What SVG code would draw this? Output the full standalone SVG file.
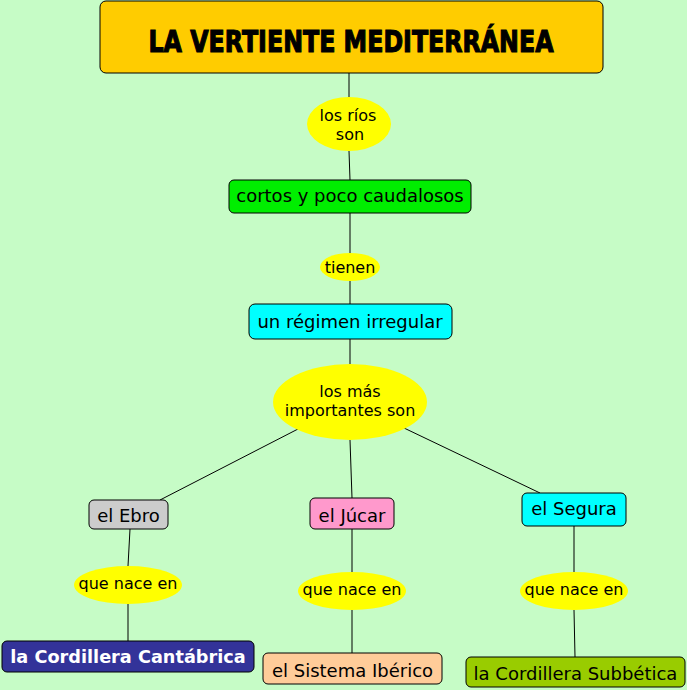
<svg xmlns="http://www.w3.org/2000/svg" width="687" height="690" viewBox="0 0 687 690">
<style>
.box{stroke:#000;stroke-width:1}
.ell{fill:#FFFF00;stroke:none}
.t{font-family:"DejaVu Sans","Liberation Sans",sans-serif;font-size:18px;fill:#000;text-anchor:middle}
.s{font-size:16px}
.title{font-family:"DejaVu Sans","Liberation Sans",sans-serif;font-weight:bold;font-size:30px;fill:#000;stroke:#000;stroke-width:1.2;text-anchor:middle}
.w{fill:#fff;font-weight:bold;font-size:17.7px}
#connectors line{stroke:#000;stroke-width:1}
</style>
<rect width="687" height="690" fill="#C6FCC6"/>
<g id="connectors">
<line x1="349" y1="73" x2="349" y2="97"/>
<line x1="349" y1="151" x2="350" y2="180"/>
<line x1="350" y1="213" x2="350" y2="253"/>
<line x1="350" y1="281" x2="350" y2="304"/>
<line x1="350" y1="339" x2="350" y2="364"/>
<line x1="298" y1="429" x2="160" y2="500"/>
<line x1="350" y1="440" x2="352" y2="498"/>
<line x1="404" y1="428" x2="540" y2="493"/>
<line x1="130" y1="529" x2="128" y2="566"/>
<line x1="128" y1="604" x2="128" y2="641"/>
<line x1="352" y1="529" x2="352" y2="572"/>
<line x1="352" y1="610" x2="352" y2="653"/>
<line x1="574" y1="526" x2="574" y2="572"/>
<line x1="574" y1="610" x2="575" y2="657"/>
</g>
<g id="title">
<rect class="box" x="100" y="1" width="503" height="72" rx="6" fill="#FFCC00"/>
<text class="title" x="351" y="52" textLength="405" lengthAdjust="spacingAndGlyphs">LA VERTIENTE MEDITERRÁNEA</text>
</g>
<g id="link-rios">
<ellipse class="ell" cx="349" cy="124" rx="42" ry="27"/>
<text class="t s" x="348" y="121">los ríos</text>
<text class="t s" x="350" y="140">son</text>
</g>
<g id="cortos">
<rect class="box" x="229" y="180" width="242" height="33" rx="5" fill="#00EE00"/>
<text class="t" x="350" y="202">cortos y poco caudalosos</text>
</g>
<g id="link-tienen">
<ellipse class="ell" cx="350" cy="267" rx="30" ry="14"/>
<text class="t s" x="350" y="273">tienen</text>
</g>
<g id="regimen">
<rect class="box" x="249" y="304" width="203" height="35" rx="6" fill="#00FFFF"/>
<text class="t" x="350" y="328">un régimen irregular</text>
</g>
<g id="link-importantes">
<ellipse class="ell" cx="350" cy="402" rx="77" ry="38"/>
<text class="t s" x="350" y="397">los más</text>
<text class="t s" x="350" y="416">importantes son</text>
</g>
<g id="ebro">
<rect class="box" x="89" y="500" width="79" height="29" rx="5" fill="#CCCCCC"/>
<text class="t" x="128.5" y="522">el Ebro</text>
</g>
<g id="jucar">
<rect class="box" x="310" y="498" width="84" height="31" rx="5" fill="#FF99CC"/>
<text class="t" x="352" y="522">el Júcar</text>
</g>
<g id="segura">
<rect class="box" x="522" y="493" width="104" height="33" rx="5" fill="#00FFFF"/>
<text class="t" x="574" y="515">el Segura</text>
</g>
<g id="link-ebro">
<ellipse class="ell" cx="128" cy="585" rx="54" ry="19"/>
<text class="t s" x="128" y="589">que nace en</text>
</g>
<g id="link-jucar">
<ellipse class="ell" cx="352" cy="591" rx="54" ry="19"/>
<text class="t s" x="352" y="595">que nace en</text>
</g>
<g id="link-segura">
<ellipse class="ell" cx="574" cy="591" rx="54" ry="19"/>
<text class="t s" x="574" y="595">que nace en</text>
</g>
<g id="cantabrica">
<rect class="box" x="2" y="641" width="252" height="31" rx="5" fill="#333399"/>
<text class="t w" x="128" y="663">la Cordillera Cantábrica</text>
</g>
<g id="iberico">
<rect class="box" x="263" y="653" width="179" height="31" rx="5" fill="#FFCC99"/>
<text class="t" x="352.5" y="677">el Sistema Ibérico</text>
</g>
<g id="subbetica">
<rect class="box" x="466" y="657" width="219" height="30" rx="5" fill="#99CC00"/>
<text class="t" x="575.5" y="680">la Cordillera Subbética</text>
</g>
</svg>
